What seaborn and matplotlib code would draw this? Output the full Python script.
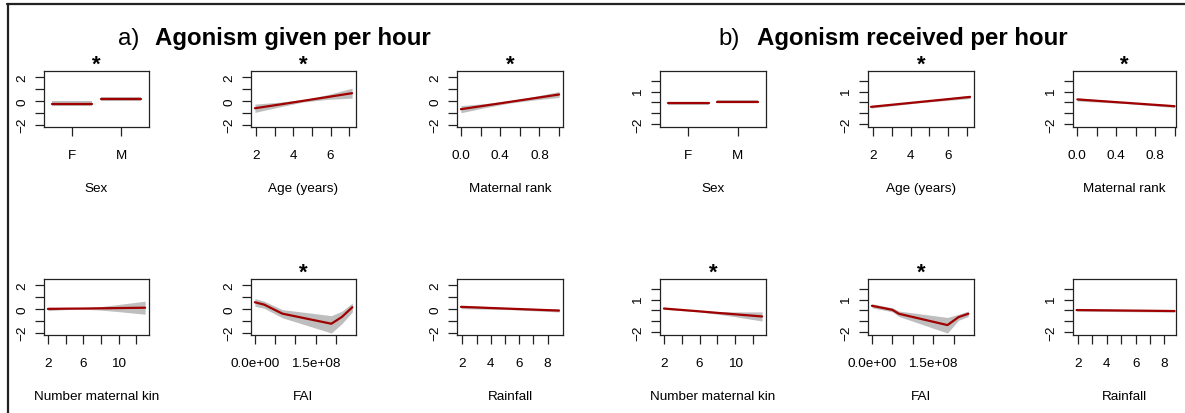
import numpy as np
import pandas as pd
import matplotlib
matplotlib.use("Agg")
import matplotlib.pyplot as plt
from matplotlib.lines import Line2D
import seaborn as sns

# ---------------- data: fitted partial effects with confidence bands ----------------
sex_levels = ["F", "M"]

# a) agonism given per hour
a_sex_fit = [-0.22, 0.15]
a_sex_half = [0.20, 0.17]

a_age_x = [1.95, 3.25, 4.55, 5.85, 7.15]
a_age_fit = [-0.62, -0.31, 0.01, 0.33, 0.65]
a_age_half = [0.35, 0.20, 0.10, 0.20, 0.42]

a_rank_x = [0.0, 0.25, 0.5, 0.75, 1.0]
a_rank_fit = [-0.70, -0.39, -0.08, 0.23, 0.54]
a_rank_half = [0.30, 0.17, 0.10, 0.15, 0.25]

a_kin_x = [2, 4, 6, 8, 10, 13]
a_kin_fit = [0.00, 0.02, 0.03, 0.05, 0.07, 0.10]
a_kin_half = [0.15, 0.08, 0.05, 0.15, 0.30, 0.55]

a_fai_x = [0.0, 2.3e7, 6.8e7, 1.89e8, 2.15e8, 2.41e8]
a_fai_fit = [0.56, 0.36, -0.40, -1.25, -0.68, 0.14]
a_fai_hi = [0.87, 0.65, -0.06, -0.57, -0.20, 0.50]
a_fai_lo = [0.22, 0.05, -0.75, -2.03, -1.25, -0.25]

a_rain_x = [1.9, 5.35, 8.8]
a_rain_fit = [0.17, 0.015, -0.14]
a_rain_half = [0.15, 0.08, 0.12]

# b) agonism received per hour
b_sex_fit = [-0.09, 0.09]
b_sex_half = [0.12, 0.12]

b_age_x = [1.9, 4.5, 7.15]
b_age_fit = [-0.40, 0.05, 0.51]
b_age_half = [0.12, 0.07, 0.15]

b_rank_x = [0.0, 0.5, 1.0]
b_rank_fit = [0.28, -0.03, -0.34]
b_rank_half = [0.15, 0.07, 0.12]

b_kin_x = [2, 4, 6, 8, 10, 13]
b_kin_fit = [0.18, 0.05, -0.08, -0.22, -0.35, -0.55]
b_kin_half = [0.08, 0.06, 0.06, 0.12, 0.22, 0.42]

b_fai_x = [0.0, 5.0e7, 6.6e7, 1.85e8, 2.12e8, 2.36e8]
b_fai_fit = [0.43, 0.06, -0.30, -1.34, -0.61, -0.30]
b_fai_hi = [0.62, 0.25, -0.05, -0.64, -0.35, -0.05]
b_fai_lo = [0.25, -0.12, -0.55, -2.07, -0.90, -0.55]

b_rain_x = [1.9, 8.7]
b_rain_fit = [0.04, -0.05]
b_rain_half = [0.10, 0.10]

# ---------------- style ----------------
sns.set_theme(style="ticks")
plt.rcParams["font.family"] = ["Liberation Sans", "DejaVu Sans"]
plt.rcParams["axes.unicode_minus"] = True
plt.rcParams["text.color"] = "black"
plt.rcParams["axes.labelcolor"] = "black"

W, H = 1185, 414
fig = plt.figure(figsize=(W / 100, H / 100), dpi=100)
fig.patch.set_facecolor("white")

LINE_COL = "#a00000"
BAND_COL = "#bebebe"
FS = 9.7


def add_panel(left, top, width, height):
    return fig.add_axes([left / W, 1 - (top + height) / H, width / W, height / H])


def style_axes(ax, xlim, ylim, xticks, xlabels, yticks, ylabels, xlabel):
    ax.set_xlim(*xlim)
    ax.set_ylim(*ylim)
    ax.set_xticks(xticks)
    ax.set_xticklabels(xlabels)
    ax.set_yticks(yticks)
    ax.set_yticklabels(ylabels, rotation=90, va="center")
    for s in ax.spines.values():
        s.set_visible(True)
        s.set_linewidth(0.9)
        s.set_color("#222222")
    ax.tick_params(axis="both", direction="out", length=6.3, width=0.9,
                   color="#222222", labelsize=FS, labelcolor="black")
    ax.tick_params(axis="x", pad=9.5)
    ax.tick_params(axis="y", pad=5)
    ax.set_xlabel(xlabel, fontsize=FS, labelpad=15, color="black")
    ax.set_ylabel("")
    ax.grid(False)


def star(ax):
    ax.annotate("*", xy=(0.5, 1.0), xycoords="axes fraction",
                xytext=(0, -3), textcoords="offset points",
                ha="center", va="bottom", fontsize=16, fontweight="bold",
                color="black")


def smooth_panel(ax, x, fit, lo, hi):
    df = pd.DataFrame({"x": x, "fit": fit})
    ax.fill_between(x, lo, hi, color=BAND_COL, linewidth=0)
    sns.lineplot(data=df, x="x", y="fit", ax=ax, color=LINE_COL, linewidth=1.6,
                 legend=False)


def sex_panel(ax, fit, half):
    hw = 0.41
    for i, (f, h) in enumerate(zip(fit, half)):
        xs = [i + 1 - hw, i + 1 + hw]
        ax.fill_between(xs, [f - h] * 2, [f + h] * 2, color=BAND_COL, linewidth=0)
        df = pd.DataFrame({"x": xs, "fit": [f, f]})
        sns.lineplot(data=df, x="x", y="fit", ax=ax, color=LINE_COL,
                     linewidth=1.6, legend=False)


def band(fit, half):
    f = np.asarray(fit, float)
    h = np.asarray(half, float)
    return f - h, f + h


ya_lim = (-2.2, 2.52)
yb_lim = (-2.25, 2.89)
yticks = [-2, -1, 0, 1, 2]
ya_lab = ["\u22122", "", "0", "", "2"]
yb_lab = ["\u22122", "", "", "1", ""]

ROW1, ROW2, PH = 72, 280, 56
cols = [(44, 105), (251, 105), (457, 106), (660, 106), (868, 106), (1073, 103)]

groups = [
    dict(sex=(a_sex_fit, a_sex_half),
         age=(a_age_x, a_age_fit, a_age_half),
         rank=(a_rank_x, a_rank_fit, a_rank_half),
         kin=(a_kin_x, a_kin_fit, a_kin_half),
         fai=(a_fai_x, a_fai_fit, a_fai_lo, a_fai_hi),
         rain=(a_rain_x, a_rain_fit, a_rain_half),
         ylim=ya_lim, ylab=ya_lab,
         stars=["sex", "age", "rank", "fai"]),
    dict(sex=(b_sex_fit, b_sex_half),
         age=(b_age_x, b_age_fit, b_age_half),
         rank=(b_rank_x, b_rank_fit, b_rank_half),
         kin=(b_kin_x, b_kin_fit, b_kin_half),
         fai=(b_fai_x, b_fai_fit, b_fai_lo, b_fai_hi),
         rain=(b_rain_x, b_rain_fit, b_rain_half),
         ylim=yb_lim, ylab=yb_lab,
         stars=["age", "rank", "kin", "fai"]),
]

for g, grp in enumerate(groups):
    c0 = 3 * g
    ylim, ylab = grp["ylim"], grp["ylab"]

    # Sex
    ax = add_panel(cols[c0][0], ROW1, cols[c0][1], PH)
    sex_panel(ax, *grp["sex"])
    style_axes(ax, (0.43, 2.57), ylim, [1, 2], sex_levels, yticks, ylab, "Sex")
    if "sex" in grp["stars"]:
        star(ax)

    # Age
    ax = add_panel(cols[c0 + 1][0], ROW1, cols[c0 + 1][1], PH)
    x, f, h = grp["age"]
    smooth_panel(ax, x, f, *band(f, h))
    style_axes(ax, (1.74, 7.36), ylim, [2, 3, 4, 5, 6, 7],
               ["2", "", "4", "", "6", ""], yticks, ylab, "Age (years)")
    if "age" in grp["stars"]:
        star(ax)

    # Maternal rank
    ax = add_panel(cols[c0 + 2][0], ROW1, cols[c0 + 2][1], PH)
    x, f, h = grp["rank"]
    smooth_panel(ax, x, f, *band(f, h))
    xr = (-0.04, 1.04) if g == 0 else (-0.045, 1.015)
    style_axes(ax, xr, ylim, [0, 0.2, 0.4, 0.6, 0.8, 1.0],
               ["0.0", "", "0.4", "", "0.8", ""], yticks, ylab, "Maternal rank")
    if "rank" in grp["stars"]:
        star(ax)

    # Number maternal kin
    ax = add_panel(cols[c0][0], ROW2, cols[c0][1], PH)
    x, f, h = grp["kin"]
    smooth_panel(ax, x, f, *band(f, h))
    style_axes(ax, (1.56, 13.44), ylim, [2, 4, 6, 8, 10, 12],
               ["2", "", "6", "", "10", ""], yticks, ylab, "Number maternal kin")
    if "kin" in grp["stars"]:
        star(ax)

    # FAI
    ax = add_panel(cols[c0 + 1][0], ROW2, cols[c0 + 1][1], PH)
    x, f, lo, hi = grp["fai"]
    smooth_panel(ax, x, f, lo, hi)
    style_axes(ax, (-9.6e6, 2.5e8), ylim, [0, 5e7, 1e8, 1.5e8, 2e8],
               ["0.0e+00", "", "", "1.5e+08", ""], yticks, ylab, "FAI")
    if "fai" in grp["stars"]:
        star(ax)

    # Rainfall
    ax = add_panel(cols[c0 + 2][0], ROW2, cols[c0 + 2][1], PH)
    x, f, h = grp["rain"]
    smooth_panel(ax, x, f, *band(f, h))
    xr = (1.62, 9.08) if g == 0 else (1.65, 8.8)
    style_axes(ax, xr, ylim, [2, 3, 4, 5, 6, 7, 8],
               ["2", "", "4", "", "6", "", "8"], yticks, ylab, "Rainfall")

# group headings
TFS = 17.3
fig.text(118 / W, 1 - 45 / H, "a)", fontsize=TFS, va="baseline", ha="left")
fig.text(155 / W, 1 - 45 / H, "Agonism given per hour", fontsize=TFS,
         fontweight="bold", va="baseline", ha="left")
fig.text(718 / W, 1 - 45 / H, "b)", fontsize=TFS, va="baseline", ha="left")
fig.text(757 / W, 1 - 45 / H, "Agonism received per hour", fontsize=TFS,
         fontweight="bold", va="baseline", ha="left")

# outer frame (top and left edges)
fig.add_artist(Line2D([8 / W, 8 / W], [0, 1 - 5 / H], transform=fig.transFigure,
                      color="#222222", linewidth=1.6))
fig.add_artist(Line2D([7 / W, 1], [1 - 5 / H, 1 - 5 / H], transform=fig.transFigure,
                      color="#222222", linewidth=1.6))

fig.savefig("out.png", dpi=100)
